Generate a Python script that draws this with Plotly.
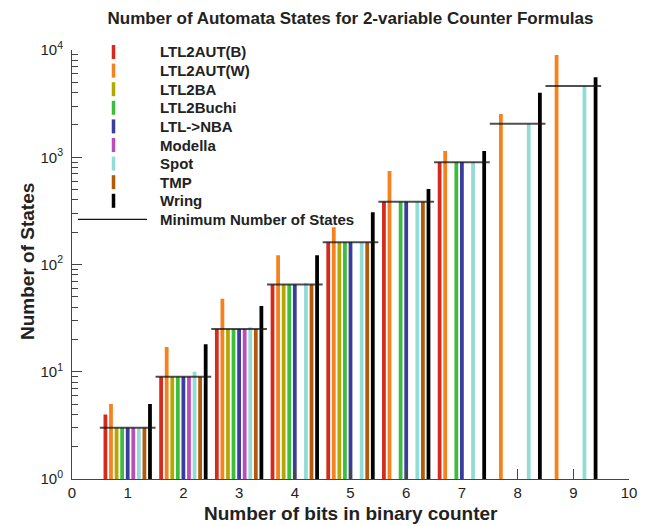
import plotly.graph_objects as go

bits = [1, 2, 3, 4, 5, 6, 7, 8, 9]

tools = ["LTL2AUT(B)", "LTL2AUT(W)", "LTL2BA", "LTL2Buchi", "LTL->NBA",
         "Modella", "Spot", "TMP", "Wring"]
colors = ["#d62a1f", "#f5821f", "#b0aa00", "#3dbd3d", "#3a3d9e",
          "#bb4cb9", "#92dcd6", "#b25a0c", "#000000"]

ltl2aut_b = [4, 9, 25, 65, 161, 385, 897, None, None]
ltl2aut_w = [5, 17, 48, 122, 222, 745, 1143, 2530, 8980]
ltl2ba = [3, 9, 25, 65, 161, None, None, None, None]
ltl2buchi = [3, 9, 25, 65, 161, 385, 897, None, None]
ltl_nba = [3, 9, 25, 65, 161, 385, 897, None, None]
modella = [3, 9, 25, None, None, None, None, None, None]
spot = [3, 10, 26, 67, 161, 385, 897, 2049, 4609]
tmp = [3, 9, 25, 65, 161, 385, None, None, None]
wring = [5, 18, 41, 122, 307, 506, 1143, 4000, 5560]

min_states = [3, 9, 25, 65, 161, 385, 897, 2049, 4609]

series = [ltl2aut_b, ltl2aut_w, ltl2ba, ltl2buchi, ltl_nba,
          modella, spot, tmp, wring]

FONT = "Liberation Sans, Arial, Helvetica, sans-serif"
# the page body has an 8px margin, so the figure is drawn 8px in from the corner
PAGE_OFF = 8

fig = go.Figure()
for name, vals, col in zip(tools, series, colors):
    fig.add_trace(go.Bar(x=bits, y=vals, name=name, marker_color=col,
                         marker_line_width=0, showlegend=False))

# minimum number of states: one segment across each group
mx, my = [], []
for b, m in zip(bits, min_states):
    mx += [b - 0.5, b + 0.5, None]
    my += [m, m, None]
fig.add_trace(go.Scatter(x=mx, y=my, mode="lines", showlegend=False,
                         line=dict(color="rgba(20,20,20,0.75)", width=2)))

# hand-made legend in the upper left of the plot area (page pixel -> paper)
PLOT_L, PLOT_W, PLOT_B, PLOT_H = 72, 557, 479, 429
def px(x):
    return (x - PLOT_L) / PLOT_W
def py(y):
    return (PLOT_B - y) / PLOT_H

row_y = 52
for name, col in zip(tools, colors):
    fig.add_shape(type="line", xref="paper", yref="paper",
                  x0=px(113.5), x1=px(113.5), y0=py(row_y - 7), y1=py(row_y + 7),
                  line=dict(color=col, width=3.5))
    fig.add_annotation(x=px(158), y=py(row_y), xref="paper", yref="paper",
                       text=f"<b>{name.replace('>', '&gt;')}</b>", showarrow=False,
                       xanchor="left", yanchor="middle",
                       font=dict(family=FONT, size=15, color="#222"))
    row_y += 18.6
fig.add_shape(type="line", xref="paper", yref="paper",
              x0=px(78), x1=px(147), y0=py(row_y), y1=py(row_y),
              line=dict(color="#111", width=1.2))
fig.add_annotation(x=px(158), y=py(row_y), xref="paper", yref="paper",
                   text="<b>Minimum Number of States</b>", showarrow=False,
                   xanchor="left", yanchor="middle",
                   font=dict(family=FONT, size=15, color="#222"))

# axis titles
fig.add_annotation(x=px(351), y=py(513), xref="paper", yref="paper",
                   text="<b>Number of bits in binary counter</b>", showarrow=False,
                   xanchor="center", yanchor="middle",
                   font=dict(family=FONT, size=19, color="#222"))
fig.add_annotation(x=px(27), y=py(262), xref="paper", yref="paper",
                   text="<b>Number of States</b>", showarrow=False, textangle=-90,
                   xanchor="center", yanchor="middle",
                   font=dict(family=FONT, size=19, color="#222"))

W, H = 651 - PAGE_OFF, 526 - PAGE_OFF
fig.update_layout(
    width=W, height=H,
    margin=dict(l=72 - PAGE_OFF, r=22, t=50 - PAGE_OFF, b=47),
    barmode="group", bargap=0.1, bargroupgap=0.32,
    plot_bgcolor="white", paper_bgcolor="white",
    font=dict(family=FONT, size=15, color="#222"),
    title=dict(text="<b>Number of Automata States for 2-variable Counter Formulas</b>",
               x=(350.5 - PAGE_OFF) / W, xanchor="center",
               y=1 - (18 - PAGE_OFF) / H, yanchor="middle",
               font=dict(family=FONT, size=17, color="#222")),
    xaxis=dict(range=[0, 10], tickvals=list(range(11)), ticks="inside",
               ticklen=10, tickcolor="#444", showline=True, linecolor="#444",
               showgrid=False, zeroline=False, automargin=False),
    yaxis=dict(type="log", range=[0, 4], tickvals=[1, 10, 100, 1000, 10000],
               ticktext=["10<sup>0</sup>", "10<sup>1</sup>", "10<sup>2</sup>",
                         "10<sup>3</sup>", "10<sup>4</sup>"],
               ticks="inside", ticklen=10, tickcolor="#444", showline=True,
               linecolor="#444", showgrid=False, zeroline=False,
               ticklabelstandoff=5, automargin=False,
               minor=dict(tickvals=[m * 10 ** e for e in range(4) for m in range(2, 10)],
                          ticks="inside", ticklen=6, tickcolor="#444", showgrid=False)),
)

fig.write_html("out.html")
